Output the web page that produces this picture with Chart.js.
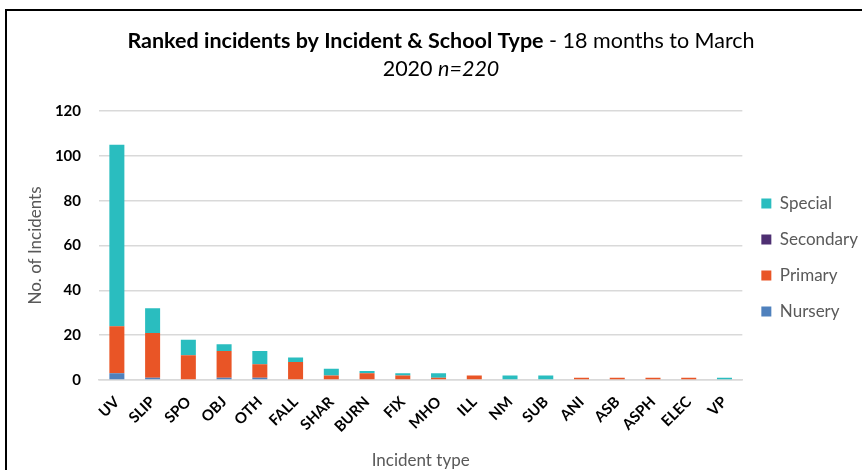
<!DOCTYPE html>
<html>
<head>
<meta charset="utf-8">
<script src="https://cdn.jsdelivr.net/npm/chart.js@4.4.1/dist/chart.umd.min.js"></script>
<style>
  body { margin: 0; background: #fff; }
  #frame { position: absolute; left: 5px; top: 9px; width: 900px; height: 500px;
           border-left: 2px solid #000; border-top: 2px solid #000; }
  #wrap { position: absolute; left: 0; top: 0; width: 862px; height: 470px; }
</style>
</head>
<body>
<div id="frame"></div>
<div id="wrap"><canvas id="chart" width="862" height="470"></canvas></div>
<script>
// incident codes, ranked
const categories = ['UV','SLIP','SPO','OBJ','OTH','FALL','SHAR','BURN','FIX','MHO','ILL','NM','SUB','ANI','ASB','ASPH','ELEC','VP'];

// counts per school type
const nursery   = [3, 1, 0, 1, 1, 0, 0, 0, 0, 0, 0, 0, 0, 0, 0, 0, 0, 0];
const primary   = [21, 20, 11, 12, 6, 8, 2, 3, 2, 1, 2, 0, 0, 1, 1, 1, 1, 0];
const secondary = [0, 0, 0, 0, 0, 0, 0, 0, 0, 0, 0, 0, 0, 0, 0, 0, 0, 0];
const special   = [81, 11, 7, 3, 6, 2, 3, 1, 1, 2, 0, 2, 2, 0, 0, 0, 0, 1];

const yTicks = [0, 20, 40, 60, 80, 100, 120];

const grey = '#595959';

// title is drawn by hand because it mixes bold, normal and italic
const titlePlugin = {
  id: 'mixedTitle',
  afterDraw(chart) {
    const c = chart.ctx;
    const cx = 441;
    const fs = '21.5px Lato';
    c.save();
    c.fillStyle = '#000';
    c.textBaseline = 'middle';
    c.textAlign = 'left';
    const p1 = 'Ranked incidents by Incident & School Type';
    const p2 = ' - 18 months to March';
    c.font = 'bold ' + fs; const w1 = c.measureText(p1).width;
    c.font = fs; const w2 = c.measureText(p2).width;
    let x = cx - (w1 + w2) / 2;
    c.font = 'bold ' + fs; c.fillText(p1, x, 41);
    c.font = fs; c.fillText(p2, x + w1, 41);
    const q1 = '2020 ';
    const q2 = 'n=220';
    c.font = fs; const v1 = c.measureText(q1).width;
    c.font = 'italic ' + fs; const v2 = c.measureText(q2).width;
    x = cx - (v1 + v2) / 2;
    c.font = fs; c.fillText(q1, x, 69);
    c.font = 'italic ' + fs; c.fillText(q2, x + v1, 69);
    c.restore();
  }
};

function ds(label, data, color) {
  return { label: label, data: data, backgroundColor: color, borderWidth: 0,
           barPercentage: 0.42, categoryPercentage: 1 };
}

new Chart(document.getElementById('chart').getContext('2d'), {
  type: 'bar',
  data: {
    labels: categories,
    datasets: [
      ds('Nursery', nursery, '#4f81bd'),
      ds('Primary', primary, '#e95526'),
      ds('Secondary', secondary, '#4e2f72'),
      ds('Special', special, '#2abdbf')
    ]
  },
  plugins: [titlePlugin],
  options: {
    responsive: false,
    animation: false,
    layout: { padding: { top: 111, left: 14, right: -6, bottom: -1 } },
    plugins: {
      title: { display: false },
      tooltip: { enabled: false },
      legend: {
        position: 'right',
        align: 'start',
        reverse: true,
        title: { display: true, text: ' ', font: { size: 10 }, padding: { top: 0, bottom: 53 } },
        labels: {
          boxWidth: 10, boxHeight: 10, padding: 19,
          color: grey, font: { family: 'Lato', size: 17 }
        }
      }
    },
    scales: {
      x: {
        stacked: true,
        grid: { display: false, drawTicks: false },
        border: { color: '#d9d9d9', width: 1.5 },
        ticks: {
          color: '#000', minRotation: 45, maxRotation: 45, padding: 13,
          font: { family: 'Lato', size: 15, weight: 'bold' }
        },
        title: { display: true, text: 'Incident type', color: grey,
                 font: { family: 'Lato', size: 17 }, padding: { top: 2, bottom: 0 } }
      },
      y: {
        stacked: true,
        min: yTicks[0], max: yTicks[yTicks.length - 1],
        afterBuildTicks(axis) { axis.ticks = yTicks.map(v => ({ value: v })); },
        afterFit(axis) { axis.width = 85; },
        grid: { color: '#d9d9d9', lineWidth: 1.5, drawTicks: false },
        border: { display: false },
        ticks: { color: '#000', padding: 18, font: { family: 'Lato', size: 15, weight: 'bold' } },
        title: { display: true, text: 'No. of Incidents', color: grey,
                 font: { family: 'Lato', size: 17 }, padding: { top: 11, bottom: 0 } }
      }
    }
  }
});
</script>
</body>
</html>
